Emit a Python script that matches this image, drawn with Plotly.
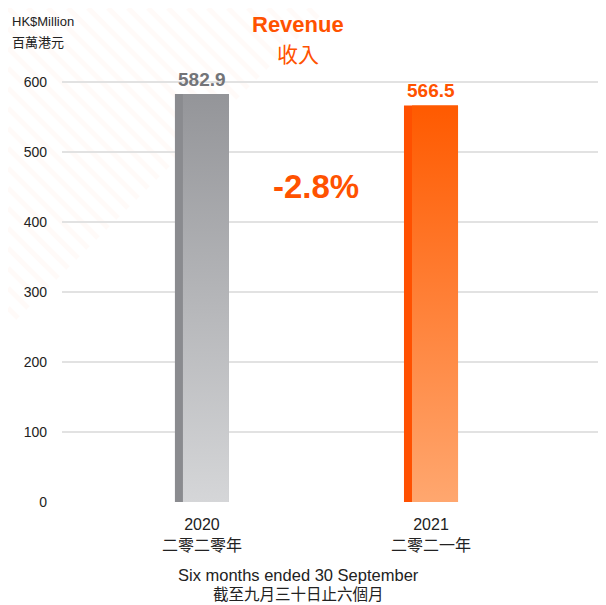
import plotly.graph_objects as go

# ---- data ----
years = ["2020", "2021"]
year_labels_cn = ["二零二零年", "二零二一年"]
revenue = [582.9, 566.5]
change_label = "-2.8%"
y_ticks = [0, 100, 200, 300, 400, 500, 600]

# ---- styles ----
OFF = 8  # default page body margin
W, H = 606 - OFF, 605 - OFF
ML, MR = 62 - OFF, 0
Y0_SCREEN = 502
PX_PER_UNIT = 420 / 600
Y_MAX = 620
plot_h = round(Y_MAX * PX_PER_UNIT)
MB = H - (Y0_SCREEN - OFF)
MT = H - MB - plot_h
ORANGE = "#ff5200"
strip_colors = ["#8a8b8f", "#ff5000"]
grad_top = ["#949599", "#ff5a00"]
grad_bot = ["#d5d6d8", "#ffa76f"]
label_colors = ["#737478", "#ff5200"]
BAR_W = 0.236
STRIP_W = 0.035
xpos = [0, 1]
SANS = "Liberation Sans, Arial"
CJK = "Noto Sans CJK TC"

fig = go.Figure()

# base bars (strip colour)
fig.add_trace(go.Bar(
    x=xpos, y=revenue, width=BAR_W,
    marker=dict(color=strip_colors, line=dict(width=0)),
    hoverinfo="skip", showlegend=False,
))

# gradient overlay on the main part of each bar
for i, (xc, v) in enumerate(zip(xpos, revenue)):
    x0 = xc - BAR_W / 2 + STRIP_W
    x1 = xc + BAR_W / 2
    fig.add_trace(go.Scatter(
        x=[x0, x1, x1, x0, x0], y=[0, 0, v, v, 0],
        mode="lines", line=dict(width=0), fill="toself",
        fillgradient=dict(type="vertical", start=0, stop=v,
                          colorscale=[[0, grad_bot[i]], [1, grad_top[i]]]),
        hoverinfo="skip", showlegend=False,
    ))

plot_w = W - ML - MR


def px(xs):
    return (xs - OFF - ML) / plot_w


def py(ys):
    return (H - MB - (ys - OFF)) / plot_h


def note(xs, ys, text, family, size, color, xanchor="center", borderpad=1):
    return dict(x=px(xs), y=py(ys), xref="paper", yref="paper", text=text,
                xanchor=xanchor, yanchor="middle", showarrow=False, borderpad=borderpad,
                font=dict(family=family, size=size, color=color))


ann = []
# value labels
for i, (xc, v) in enumerate(zip(xpos, revenue)):
    ann.append(dict(x=xc, y=v, xref="x", yref="y", text=f"<b>{v:.1f}</b>",
                    showarrow=False, xanchor="center", yanchor="bottom", yshift=2,
                    font=dict(family=SANS, size=19, color=label_colors[i])))

ann.append(note(316, 186, f"<b>{change_label}</b>", SANS, 33, ORANGE))
ann.append(note(298, 25, "<b>Revenue</b>", SANS, 22, ORANGE))
ann.append(note(298, 53, "收入", CJK, 21, ORANGE))
ann.append(note(10, 22, "HK$Million", SANS, 13, "#222222", xanchor="left"))
ann.append(note(10, 41, "百萬港元", CJK, 13, "#222222", xanchor="left"))
ann.append(note(298, 575, "Six months ended 30 September", SANS, 16.5, "#222222"))
ann.append(note(298, 593, "截至九月三十日止六個月", CJK, 15.5, "#222222", borderpad=0))

# faint diagonal background stripes (top-left corner)
shapes = []
L = 320
for k in range(-16, 17):
    d = k * 20
    if d >= 0:
        sx, sy = d, 0
    else:
        sx, sy = 0, -d
    ex, ey = (L + d) / 2, (L - d) / 2
    if ex <= sx:
        continue
    shapes.append(dict(type="line", xref="paper", yref="paper",
                       x0=px(sx + OFF), y0=py(sy + OFF), x1=px(ex + OFF), y1=py(ey + OFF),
                       line=dict(color="rgba(255,120,70,0.035)", width=5), layer="below"))

fig.update_layout(
    width=W, height=H,
    margin=dict(l=ML, r=MR, t=MT, b=MB),
    paper_bgcolor="white", plot_bgcolor="rgba(0,0,0,0)",
    barmode="overlay",
    showlegend=False,
    annotations=ann,
    shapes=shapes,
    xaxis=dict(range=[-0.611, 1.764], tickvals=xpos,
               ticktext=[f"{y}<br>{c}" for y, c in zip(years, year_labels_cn)],
               showgrid=False, zeroline=False, showline=False, ticks="",
               ticklabelstandoff=11,
               tickfont=dict(family="Liberation Sans, Noto Sans CJK TC", size=16, color="#222222"),
               fixedrange=True),
    yaxis=dict(range=[0, Y_MAX], tickvals=y_ticks, showgrid=True, gridcolor="#e2e2e2", gridwidth=1.5,
               zeroline=False, showline=False, ticks="", ticklabelstandoff=14,
               tickfont=dict(family=SANS, size=14, color="#222222"),
               fixedrange=True),
)

fig.write_html("out.html")
